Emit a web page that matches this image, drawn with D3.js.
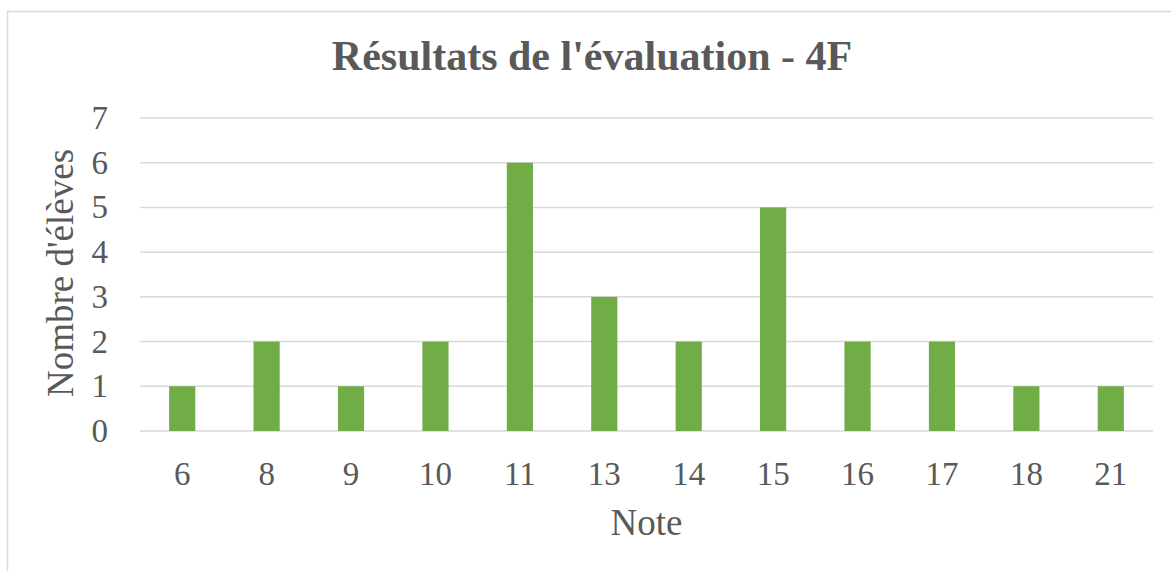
<!DOCTYPE html>
<html>
<head>
<meta charset="utf-8">
<script src="https://cdn.jsdelivr.net/npm/d3@7"></script>
<style>
  body { margin: 0; background: #fff; }
  text { font-family: "Liberation Serif", serif; fill: #595959; }
  .grid-line { stroke: #d9d9d9; stroke-width: 1.5; }
</style>
</head>
<body>
<div id="wrapper"></div>
<script>
const notes = ["6", "8", "9", "10", "11", "13", "14", "15", "16", "17", "18", "21"];
const counts = [1, 2, 1, 2, 6, 3, 2, 5, 2, 2, 1, 1];
const yTicks = [0, 1, 2, 3, 4, 5, 6, 7];
const chartTitle = "Résultats de l'évaluation - 4F";
const xTitle = "Note";
const yTitle = "Nombre d'élèves";

function drawChart() {
  const dimensions = {
    width: 1171,
    height: 571,
    margin: { top: 118, right: 18, bottom: 140, left: 140 },
  };
  dimensions.boundedWidth = dimensions.width - dimensions.margin.left - dimensions.margin.right;
  dimensions.boundedHeight = dimensions.height - dimensions.margin.top - dimensions.margin.bottom;

  const wrapper = d3.select("#wrapper")
    .append("svg")
    .attr("width", dimensions.width)
    .attr("height", dimensions.height);

  // chart border
  wrapper.append("rect")
    .attr("x", 7.5)
    .attr("y", 11.5)
    .attr("width", dimensions.width)
    .attr("height", dimensions.height)
    .attr("fill", "none")
    .attr("stroke", "#d9d9d9")
    .attr("stroke-width", 1.5);

  const bounds = wrapper.append("g")
    .attr("transform", `translate(${dimensions.margin.left}, ${dimensions.margin.top})`);

  // scales
  const xScale = d3.scaleBand()
    .domain(notes)
    .range([0, dimensions.boundedWidth])
    .paddingInner(0.69)
    .paddingOuter(0.345);

  const yScale = d3.scaleLinear()
    .domain([0, 7])
    .range([dimensions.boundedHeight, 0]);

  // grid
  bounds.append("g")
    .selectAll("line")
    .data(yTicks)
    .join("line")
    .attr("class", "grid-line")
    .attr("x1", 0)
    .attr("x2", dimensions.boundedWidth)
    .attr("y1", d => yScale(d))
    .attr("y2", d => yScale(d));

  // bars
  bounds.append("g")
    .selectAll("rect")
    .data(counts)
    .join("rect")
    .attr("x", (d, i) => xScale(notes[i]))
    .attr("y", d => yScale(d))
    .attr("width", xScale.bandwidth())
    .attr("height", d => yScale(0) - yScale(d))
    .attr("fill", "#70ad47");

  // axes (labels only, Excel style)
  const yAxis = d3.axisLeft(yScale)
    .tickValues(yTicks)
    .tickFormat(d3.format("d"))
    .tickSize(0)
    .tickPadding(32);
  const yAxisGroup = bounds.append("g").call(yAxis);
  yAxisGroup.select(".domain").remove();
  yAxisGroup.selectAll("text")
    .style("font-size", "33px")
    .attr("fill", "#595959");

  const xAxis = d3.axisBottom(xScale).tickSize(0).tickPadding(31);
  const xAxisGroup = bounds.append("g")
    .attr("transform", `translate(0, ${dimensions.boundedHeight})`)
    .call(xAxis);
  xAxisGroup.select(".domain").remove();
  xAxisGroup.selectAll("text")
    .style("font-size", "33px")
    .attr("fill", "#595959");

  // titles
  wrapper.append("text")
    .attr("x", 592)
    .attr("y", 70)
    .attr("text-anchor", "middle")
    .style("font-size", "42px")
    .attr("font-weight", "bold")
    .text(chartTitle);

  wrapper.append("text")
    .attr("x", dimensions.margin.left + dimensions.boundedWidth / 2)
    .attr("y", 535)
    .attr("text-anchor", "middle")
    .style("font-size", "37px")
    .text(xTitle);

  wrapper.append("text")
    .attr("transform", `translate(73, 273) rotate(-90)`)
    .attr("text-anchor", "middle")
    .style("font-size", "37px")
    .text(yTitle);
}

drawChart();
</script>
</body>
</html>
